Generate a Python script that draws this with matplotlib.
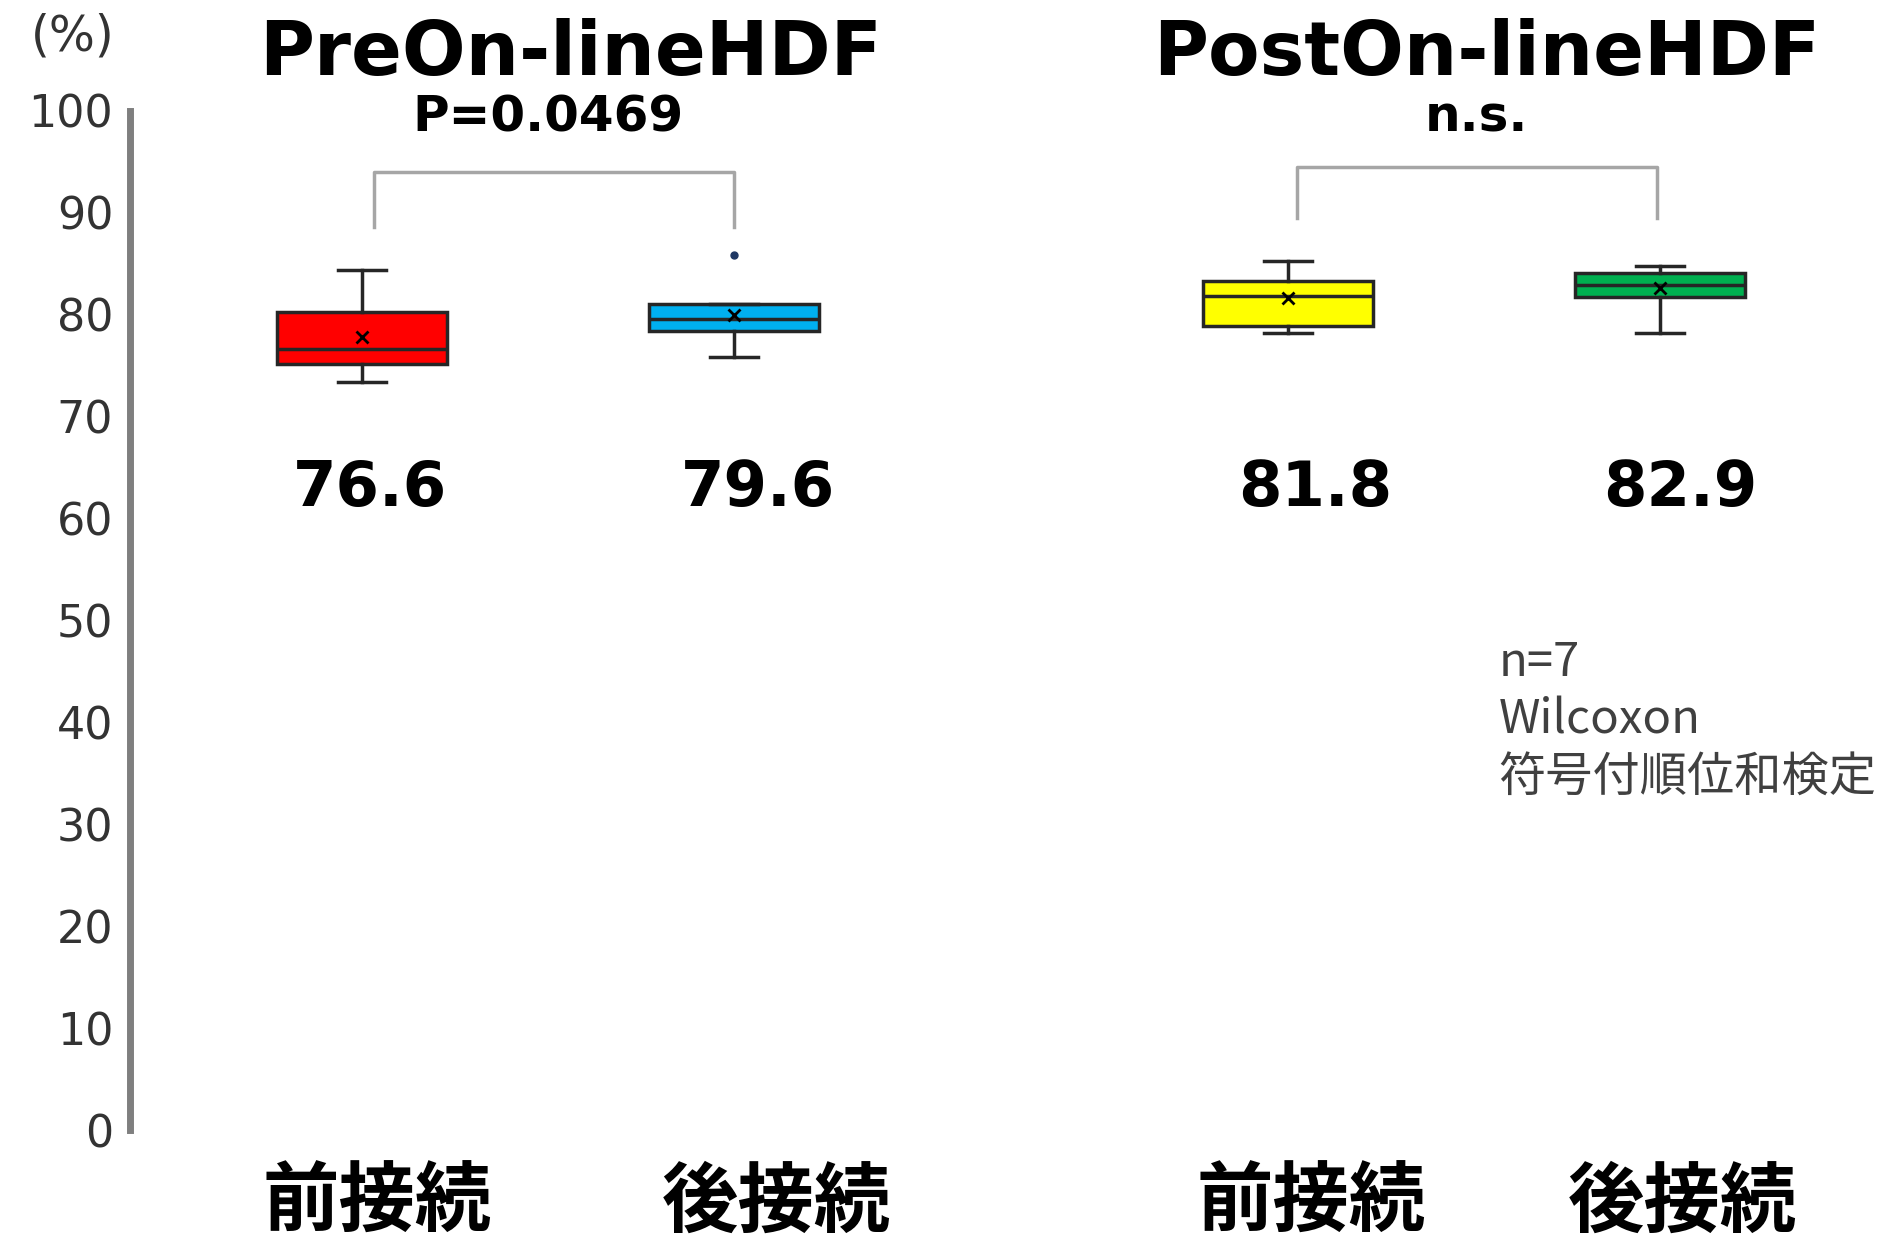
import matplotlib.pyplot as plt

plt.rcParams['font.family'] = ['DejaVu Sans', 'Noto Sans CJK JP']

# per-group box statistics (%)
groups = ['前接続', '後接続', '前接続', '後接続']
whislo = [73.4, 75.9, 78.2, 78.2]
q1 = [75.2, 78.4, 78.9, 81.7]
med = [76.6, 79.6, 81.8, 82.9]
q3 = [80.3, 81.1, 83.3, 84.1]
whishi = [84.4, 81.1, 85.3, 84.8]
means = [77.8, 80.0, 81.6, 82.6]
fliers = [[], [85.9], [], []]
colors = ['#FF0000', '#00B0F0', '#FFFF00', '#00B050']
median_labels = ['76.6', '79.6', '81.8', '82.9']
panel_titles = ['PreOn-lineHDF', 'PostOn-lineHDF']
p_labels = ['P=0.0469', 'n.s.']
note_lines = ['n=7', 'Wilcoxon', '符号付順位和検定']
yticks = list(range(0, 101, 10))

positions = [1, 2, 3.49, 4.49]

W, H = 1895, 1241
fig = plt.figure(figsize=(W / 100, H / 100), dpi=100)
ax = fig.add_axes([130 / W, (H - 1130) / H, (W - 130) / W, (1130 - 111) / H])

stats = []
for i in range(len(groups)):
    stats.append(dict(whislo=whislo[i], q1=q1[i], med=med[i], q3=q3[i],
                      whishi=whishi[i], mean=means[i], fliers=fliers[i]))

bp = ax.bxp(stats, positions=positions, widths=0.457, capwidths=0.13,
            patch_artist=True, showmeans=True, showfliers=True,
            boxprops=dict(edgecolor='#262626', linewidth=2.5),
            whiskerprops=dict(color='#262626', linewidth=2.5),
            capprops=dict(color='#262626', linewidth=2.5),
            medianprops=dict(color='#262626', linewidth=2.5),
            meanprops=dict(marker='x', markeredgecolor='black', markersize=8,
                           markeredgewidth=2),
            flierprops=dict(marker='o', markerfacecolor='#1F3864',
                            markeredgecolor='#1F3864', markersize=5))
for box, c in zip(bp['boxes'], colors):
    box.set_facecolor(c)

ax.set_xlim(0.376, 5.121)
ax.set_ylim(0, 100)
ax.set_yticks(yticks)
ax.set_yticklabels([str(t) for t in yticks], fontsize=32, color='#333333')
ax.tick_params(axis='y', length=0, pad=12)
ax.set_xticks([])
for side in ['top', 'right', 'bottom']:
    ax.spines[side].set_visible(False)
ax.spines['left'].set_color('#7F7F7F')
ax.spines['left'].set_linewidth(5)

ax.text(-0.0326, 1.0736, '(%)', transform=ax.transAxes, fontsize=35,
        color='#333333', ha='center', va='center')

# medians written under each box
label_x = [1.021, 2.064, 3.561, 4.543]
for x, t in zip(label_x, median_labels):
    ax.text(x, 62.9, t, fontsize=45, fontweight='bold', ha='center',
            va='center')

# group names under the axis
cat_x = [1.040, 2.113, 3.552, 4.549]
for x, t in zip(cat_x, groups):
    ax.text(x, -7.2, t, fontsize=55, fontweight='bold', ha='center',
            va='center', family=['Noto Sans CJK JP'], clip_on=False)

# panel titles and significance brackets
for x, t in zip([1.560, 4.023], panel_titles):
    ax.text(x, 105.5, t, fontsize=54, fontweight='bold', ha='center',
            va='center', clip_on=False)
for x, t in zip([1.50, 3.995], p_labels):
    ax.text(x, 99.4, t, fontsize=36, fontweight='bold', ha='center',
            va='center', clip_on=False)

brackets = [(1.031, 1.999, 94.0, 88.6, 88.6), (3.513, 4.481, 94.5, 89.5, 89.5)]
for x0, x1, top, b0, b1 in brackets:
    ax.plot([x0, x0, x1, x1], [b0, top, top, b1], color='#A6A6A6', lw=2.5,
            clip_on=False)

for y, t in zip([45.9, 40.2, 34.6], note_lines):
    ax.text(4.055, y, t, fontsize=34, color='#404040', ha='left',
            va='center', family=['Noto Sans CJK JP', 'DejaVu Sans'])

fig.savefig('out.png', dpi=100)
